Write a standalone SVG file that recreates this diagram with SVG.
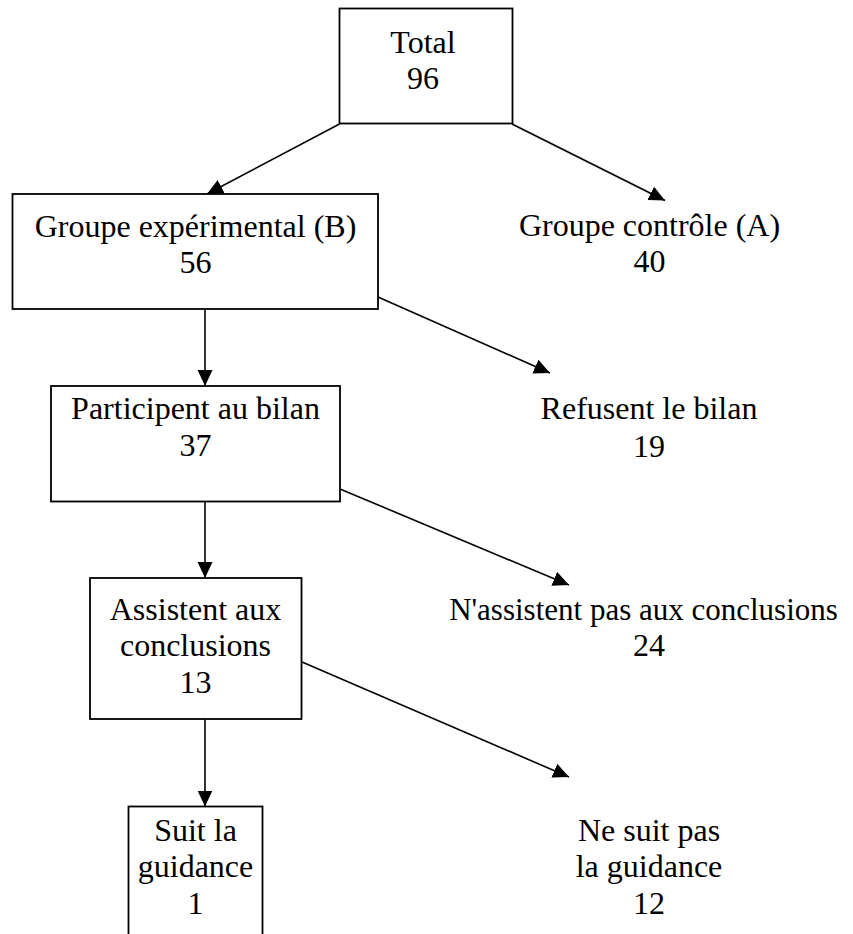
<svg xmlns="http://www.w3.org/2000/svg" width="853" height="934" viewBox="0 0 853 934">
<style>
  .box { fill: #fff; stroke: #000; stroke-width: 1.8; }
  .lbl { font-family: "Liberation Serif", "Times New Roman", serif; font-size: 32px; fill: #000; text-anchor: middle; }
  .edge { stroke: #000; stroke-width: 1.6; fill: none; marker-end: url(#arr); }
</style>
<defs>
  <marker id="arr" markerUnits="userSpaceOnUse" markerWidth="17" markerHeight="16" refX="16" refY="7.5" orient="auto">
    <path d="M0,0 L16,7.5 L0,15 z" fill="#000"/>
  </marker>
</defs>
<rect width="853" height="934" fill="#fff"/>
<g id="connectors">
  <line class="edge" x1="339.5" y1="124" x2="207" y2="194"/>
  <line class="edge" x1="512" y1="124" x2="665" y2="200.5"/>
  <line class="edge" x1="205" y1="309" x2="205" y2="386"/>
  <line class="edge" x1="378" y1="297" x2="550" y2="373"/>
  <line class="edge" x1="205" y1="502" x2="205" y2="578"/>
  <line class="edge" x1="340" y1="489" x2="569" y2="585"/>
  <line class="edge" x1="205" y1="719" x2="205" y2="806.5"/>
  <line class="edge" x1="302" y1="662" x2="569" y2="777"/>
</g>
<g id="total">
  <rect class="box" x="339.5" y="8.5" width="173" height="115"/>
  <text class="lbl" x="423" y="53">Total</text>
  <text class="lbl" x="423" y="88.5">96</text>
</g>
<g id="groupe-b">
  <rect class="box" x="12.5" y="194" width="365.5" height="115"/>
  <text class="lbl" x="195.5" y="236.5">Groupe expérimental (B)</text>
  <text class="lbl" x="195.5" y="273">56</text>
</g>
<g id="groupe-a">
  <text class="lbl" x="649.5" y="235.5">Groupe contrôle (A)</text>
  <text class="lbl" x="649.5" y="272">40</text>
</g>
<g id="participent">
  <rect class="box" x="51" y="386" width="289" height="115.5"/>
  <text class="lbl" x="195.5" y="419">Participent au bilan</text>
  <text class="lbl" x="195.5" y="455.5">37</text>
</g>
<g id="refusent">
  <text class="lbl" x="649" y="419">Refusent le bilan</text>
  <text class="lbl" x="649" y="456.5">19</text>
</g>
<g id="assistent">
  <rect class="box" x="90" y="578" width="211.5" height="141"/>
  <text class="lbl" x="195.5" y="620">Assistent aux</text>
  <text class="lbl" x="195.5" y="656">conclusions</text>
  <text class="lbl" x="195.5" y="692.5">13</text>
</g>
<g id="n-assistent">
  <text class="lbl" x="643.5" y="620" style="font-size:31px">N'assistent pas aux conclusions</text>
  <text class="lbl" x="649" y="656">24</text>
</g>
<g id="suit">
  <rect class="box" x="128.5" y="806.5" width="134" height="140"/>
  <text class="lbl" x="195.5" y="840.5">Suit la</text>
  <text class="lbl" x="195.5" y="877">guidance</text>
  <text class="lbl" x="195.5" y="913.5">1</text>
</g>
<g id="ne-suit">
  <text class="lbl" x="649" y="840.5">Ne suit pas</text>
  <text class="lbl" x="649" y="877">la guidance</text>
  <text class="lbl" x="649" y="913.5">12</text>
</g>
</svg>
